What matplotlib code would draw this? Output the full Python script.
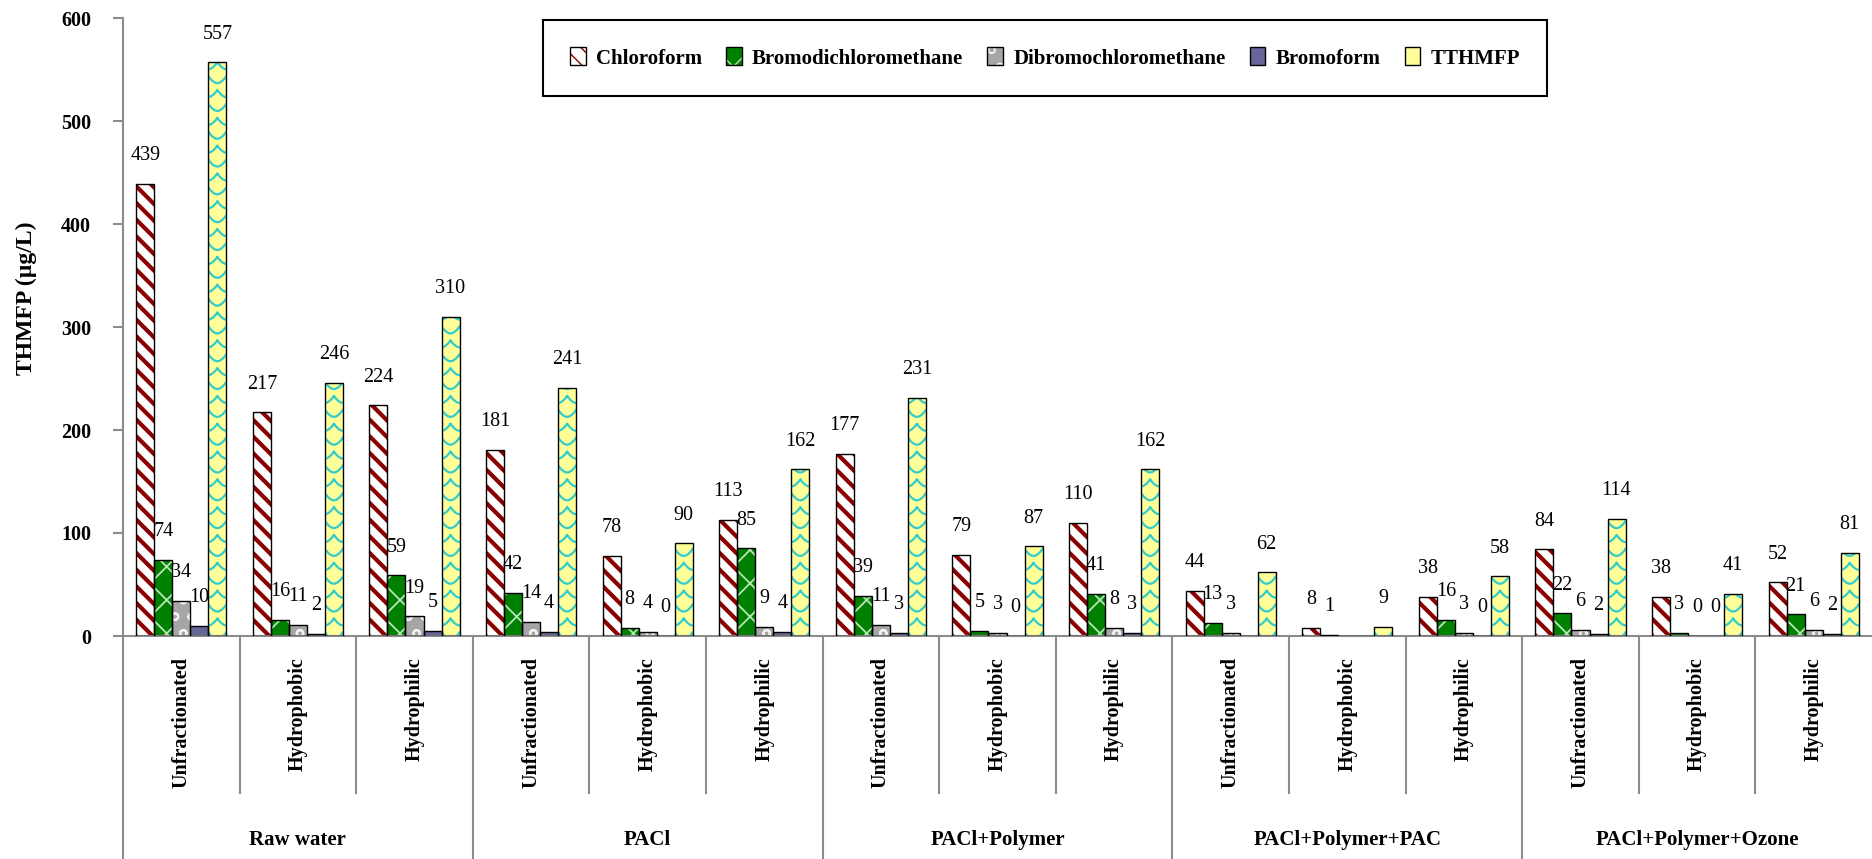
import numpy as np
import matplotlib
matplotlib.use("Agg")
import matplotlib.pyplot as plt
from matplotlib.lines import Line2D

plt.rcParams['font.family'] = ['Liberation Serif', 'DejaVu Serif']

# ---- data -------------------------------------------------------------
groups = ["Raw water", "PACl", "PACl+Polymer", "PACl+Polymer+PAC", "PACl+Polymer+Ozone"]
fractions = ["Unfractionated", "Hydrophobic", "Hydrophilic"]
series = ["Chloroform", "Bromodichloromethane", "Dibromochloromethane", "Bromoform", "TTHMFP"]

nan = np.nan
chloroform = [439, 217, 224, 181, 78, 113, 177, 79, 110, 44, 8, 38, 84, 38, 52]
bromodichloromethane = [74, 16, 59, 42, 8, 85, 39, 5, 41, 13, 1, 16, 22, 3, 21]
dibromochloromethane = [34, 11, 19, 14, 4, 9, 11, 3, 8, 3, nan, 3, 6, 0, 6]
bromoform = [10, 2, 5, 4, 0, 4, 3, 0, 3, nan, nan, 0, 2, 0, 2]
tthmfp = [557, 246, 310, 241, 90, 162, 231, 87, 162, 62, 9, 58, 114, 41, 81]

values = [chloroform, bromodichloromethane, dibromochloromethane, bromoform, tthmfp]

# ---- styles -----------------------------------------------------------
# (face colour, hatch colour, hatch, hatch line width)
styles = [
    ("white", "#8B0000", "\\\\", 3.0),
    ("#008000", "#b8e6b8", "x", 1.3),
    ("#a6a6a6", "#f2f2f2", "o", 1.5),
    ("#666699", "#666699", "", 1.0),
    ("#FFFF99", "#33CCCC", "", 1.0),
]
wave_color = "#33CCCC"
grey = "#8c8c8c"

W, H = 1872, 859
fig = plt.figure(figsize=(W / 100, H / 100), dpi=100)
ax = fig.add_axes([123 / W, 223 / H, 1749 / W, 618 / H])

n_cat = len(groups) * len(fractions)
x = np.arange(n_cat) + 0.5
bw = 0.1545
ax.set_xlim(0, n_cat)
ax.set_ylim(0, 600)


def scallops(patch, step=13.5, depth=6.5):
    """Draw a row-by-row scale pattern clipped to a bar."""
    x0, w, h = patch.get_x(), patch.get_width(), patch.get_height()
    if h <= 0:
        return
    t = np.linspace(0, 1, 25)
    xs, ys = [], []
    for k in range(int(h / step) + 2):
        yb = k * step - depth * 0.5
        shift = (k % 2) * w / 2
        for m in (-1, 0, 1):
            xs.extend(list(x0 + shift + (m + t) * w) + [np.nan])
            ys.extend(list(yb + depth * (1 - np.sin(np.pi * t))) + [np.nan])
    ln, = ax.plot(xs, ys, color=wave_color, linewidth=1.6, zorder=2.5)
    ln.set_clip_path(patch)


handles = []
for j, (name, vals) in enumerate(zip(series, values)):
    face, hcol, hatch, hlw = styles[j]
    pos = x + (j - 2) * bw
    v = np.array(vals, dtype=float)
    with plt.rc_context({'hatch.linewidth': hlw}):
        fill = ax.bar(pos, np.nan_to_num(v), width=bw, color=face, edgecolor=hcol,
                      hatch=hatch, linewidth=0, zorder=2)
        for p in fill:
            if hasattr(p, "set_hatch_linewidth"):
                p.set_hatch_linewidth(hlw)
    if name == "TTHMFP":
        for p in fill:
            scallops(p)
    outline = ax.bar(pos, np.nan_to_num(v), width=bw, fill=False, edgecolor="black",
                     linewidth=1.0, zorder=3)
    handles.append((fill[0], outline[0]))
    for xi, vi in zip(pos, v):
        if np.isnan(vi):
            continue
        ax.annotate(f"{vi:.0f}", (xi, vi), xytext=(0, 17), textcoords="offset points",
                    ha="center", va="baseline", fontsize=14.5, zorder=4)

ax.set_yticks(np.arange(0, 601, 100))
ax.tick_params(axis="y", direction="out", length=7, width=1.5, color=grey, pad=16,
               labelsize=14.5)
for lab in ax.get_yticklabels():
    lab.set_fontweight("bold")
ax.set_xticks([])
for s in ("top", "right", "left"):
    ax.spines[s].set_visible(False)
ax.spines["bottom"].set_color(grey)
ax.spines["bottom"].set_linewidth(1.5)

# left axis line running down through the category area
ax.add_line(Line2D([0, 0], [1, -0.4], transform=ax.transAxes, color=grey,
                   linewidth=1.5, clip_on=False))

# category / group separators below the axis
xt = ax.get_xaxis_transform()
for k in range(1, n_cat):
    bottom = -0.4 if k % 3 == 0 else -0.254
    ax.add_line(Line2D([k, k], [0, bottom], transform=xt, color=grey,
                       linewidth=1.5, clip_on=False))

for i in range(n_cat):
    ax.text(x[i], -0.034, fractions[i % 3], transform=xt, rotation=90,
            ha="center", va="top", fontsize=14.5, fontweight="bold")
for g, name in enumerate(groups):
    ax.text(g * 3 + 1.5, -0.33, name, transform=xt, ha="center", va="center",
            fontsize=15, fontweight="bold")

fig.text(26 / W, 1 - 298 / H, "THMFP (µg/L)", rotation=90, ha="center",
         va="center", fontsize=17, fontweight="bold")

leg = fig.legend(handles, series, loc="center",
                 bbox_to_anchor=((549 + 1541) / 2 / W, 1 - 58 / H), ncol=5,
                 frameon=True, fancybox=False, framealpha=1, edgecolor="black",
                 prop={"weight": "bold", "size": 15}, handlelength=0.75,
                 handleheight=0.95, handletextpad=0.5, columnspacing=1.15,
                 borderpad=1.3)
leg.get_frame().set_linewidth(1.5)

fig.savefig("out.png", dpi=100)
